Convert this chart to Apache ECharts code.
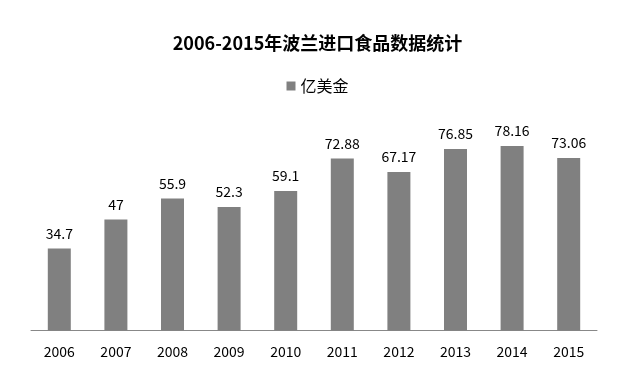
<!DOCTYPE html>
<html><head><meta charset="utf-8">
<script src="https://cdn.jsdelivr.net/npm/echarts@6/dist/echarts.min.js"></script>
<style>html,body{margin:0;padding:0;background:#fff}#c{width:635px;height:369px}</style>
</head><body><div id="c"></div>
<script>
const years = ['2006','2007','2008','2009','2010','2011','2012','2013','2014','2015'];
const values = [34.7, 47, 55.9, 52.3, 59.1, 72.88, 67.17, 76.85, 78.16, 73.06];
const seriesName = '亿美金';
const titleText = '2006-2015年波兰进口食品数据统计';
const font = "'Noto Sans CJK SC', 'Open Sans', sans-serif";
const chart = echarts.init(document.getElementById('c'), null, {renderer:'canvas'});
chart.setOption({
  animation:false,
  backgroundColor:'#fff',
  title:{text:titleText,left:'center',top:29,textStyle:{fontFamily:font,fontSize:18,fontWeight:'bold',color:'#000'}},
  legend:{data:[seriesName],top:73,left:'center',icon:'rect',itemWidth:9,itemHeight:9,itemGap:5,
    textStyle:{fontFamily:font,fontSize:16,color:'#000'}},
  grid:{left:31,right:38,top:118,bottom:38.5,containLabel:false},
  xAxis:{type:'category',data:years,axisTick:{show:false},
    axisLine:{lineStyle:{color:'#888',width:1}},
    axisLabel:{fontFamily:font,fontSize:14,color:'#000',margin:14}},
  yAxis:{type:'value',min:0,max:90,show:false,splitLine:{show:false}},
  series:[{name:seriesName,type:'bar',data:values,barWidth:23,
    itemStyle:{color:'#808080'},
    label:{show:true,position:'top',distance:8,fontFamily:font,fontSize:14,color:'#000'}}]
});
</script></body></html>
